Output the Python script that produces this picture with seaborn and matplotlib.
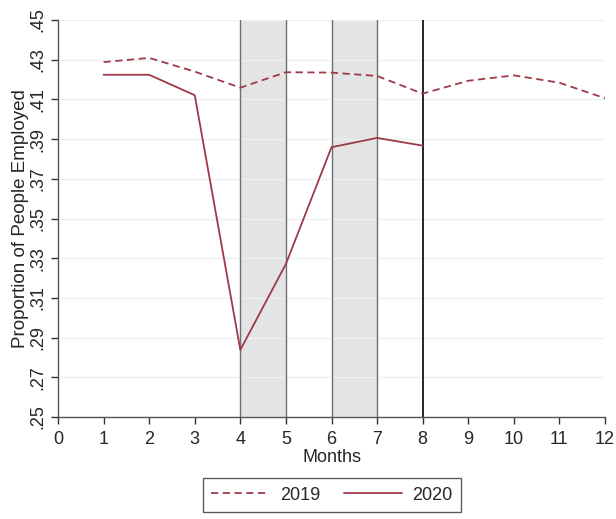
import matplotlib
matplotlib.use("Agg")
import matplotlib.pyplot as plt
from matplotlib.lines import Line2D
import pandas as pd
import seaborn as sns

months = [1, 2, 3, 4, 5, 6, 7, 8, 9, 10, 11, 12]
emp_2019 = [.4288, .4309, .4240, .4159, .4237, .4235, .4218, .4129, .4194, .4221, .4184, .4106]
months_2020 = [1, 2, 3, 4, 5, 6, 7, 8]
emp_2020 = [.4224, .4224, .4121, .2838, .3271, .3859, .3906, .3867]
y_ticks = [.25, .27, .29, .31, .33, .35, .37, .39, .41, .43, .45]
y_labels = [".25", ".27", ".29", ".31", ".33", ".35", ".37", ".39", ".41", ".43", ".45"]

df = pd.concat([
    pd.DataFrame({"Months": months, "emp": emp_2019, "year": "2019"}),
    pd.DataFrame({"Months": months_2020, "emp": emp_2020, "year": "2020"}),
])

sns.set_style("white")
plt.rcParams['font.family'] = ['Liberation Sans', 'DejaVu Sans']

line_col = "#9E3A48"
fs = 13
fig = plt.figure(figsize=(6.16, 5.19), dpi=100)
ax = fig.add_axes([58/616, 1 - 417/519, (605 - 58)/616, (417 - 20)/519])

# shaded periods
for a, b in [(4, 5), (6, 7)]:
    ax.axvspan(a, b, facecolor="#E4E4E4", edgecolor="none", zorder=0)
    ax.axvline(a, color="#6E6E6E", lw=1, zorder=1)
    ax.axvline(b, color="#6E6E6E", lw=1, zorder=1)
ax.axvline(8, color="black", lw=1.2, zorder=1)

sns.lineplot(data=df, x="Months", y="emp", style="year", color=line_col,
             dashes={"2019": (4, 2.5), "2020": ""}, lw=1.3, ax=ax, legend=False, zorder=3)

ax.set_xlim(0, 12)
ax.set_ylim(.25, .45)
ax.set_xticks(range(13))
ax.set_yticks(y_ticks)
ax.set_yticklabels(y_labels, rotation=90, va="center")
ax.tick_params(axis="both", labelsize=fs, length=5, width=1, color="#333333", direction="out",
               bottom=True, left=True)
ax.tick_params(axis="x", pad=5)
ax.yaxis.grid(True, color="#EAF2F3", lw=1)
ax.set_axisbelow(True)
for s in ["top", "right"]:
    ax.spines[s].set_visible(False)
for s in ["left", "bottom"]:
    ax.spines[s].set_color("#555555")
    ax.spines[s].set_linewidth(1)
ax.set_xlabel("Months", fontsize=fs, labelpad=1)
ax.set_ylabel("Proportion of People Employed", fontsize=13.5, labelpad=0)

handles = [Line2D([], [], color=line_col, lw=1.3, dashes=(4, 2.5)),
           Line2D([], [], color=line_col, lw=1.3)]
leg = fig.legend(handles, ["2019", "2020"], loc="center", bbox_to_anchor=(332/616, 1 - 495/519),
                 ncol=2, fontsize=fs, frameon=True, fancybox=False, handlelength=3.2,
                 handletextpad=0.6, columnspacing=1.3, borderpad=0.45, edgecolor="#333333")
leg.get_frame().set_linewidth(1)

fig.savefig("out.png", dpi=100, facecolor="white")
